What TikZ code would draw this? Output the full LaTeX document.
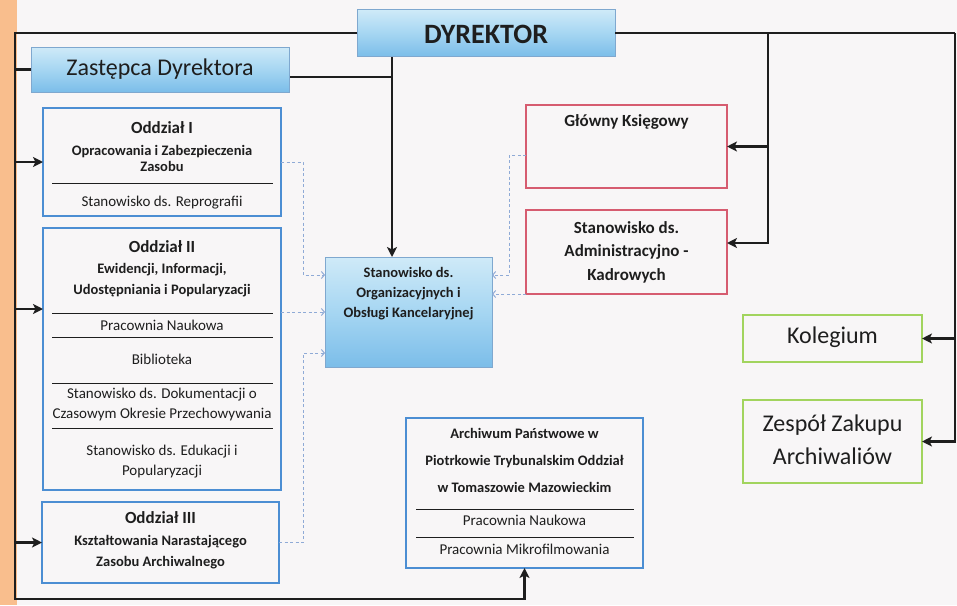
\documentclass[tikz,border=0pt]{standalone}
\usepackage{fontspec}
\setmainfont{Carlito}
\usetikzlibrary{arrows.meta}
\definecolor{paper}{HTML}{F8F6F7}
\definecolor{peach}{HTML}{F9BE8D}
\definecolor{blueline}{HTML}{4C8ED3}
\definecolor{redline}{HTML}{D65C70}
\definecolor{greenline}{HTML}{A2D45E}
\definecolor{dashblue}{HTML}{8FAAD6}
\definecolor{ink}{HTML}{1E1E1E}
\definecolor{headtop}{HTML}{CFEAF8}
\definecolor{headmid}{HTML}{A6D6F2}
\definecolor{headbot}{HTML}{7BBDE9}
\definecolor{headedge}{HTML}{7FA8CF}

\begin{document}
\begin{tikzpicture}[x=1pt,y=-1pt,
    box/.style={draw,rectangle,line width=1.6pt,inner sep=0pt,outer sep=0pt},
    bluebox/.style={box,draw=blueline},
    redbox/.style={box,draw=redline},
    greenbox/.style={box,draw=greenline},
    headbox/.style={rectangle,draw=headedge,line width=0.7pt,inner sep=0pt,outer sep=0pt,
        top color=headtop,bottom color=headbot,middle color=headmid},
    conn/.style={ink,line width=2.6pt},
    arr/.style={-{Stealth[length=10pt,width=10pt,inset=2.5pt]}},
    dconn/.style={dashblue,line width=1pt,dash pattern=on 3pt off 2.5pt,
        -{Straight Barb[length=3pt,width=7pt]}},
    sep/.style={ink,line width=0.8pt},
    head/.style={ink,align=center,font=\fontsize{17}{21}\selectfont\bfseries},
    sub/.style={ink,align=center,font=\fontsize{15}{21}\selectfont\bfseries},
    item/.style={ink,align=center,font=\fontsize{15}{20}\selectfont}]

    % page
    \useasboundingbox (0,0) rectangle (957,605);
    \fill[paper] (0,0) rectangle (957,605);
    \fill[peach] (0,0) rectangle (17,605);

    % management
    \node[headbox,minimum width=258,minimum height=47] (dyr) at (486,33) {};
    \node[ink,font=\fontsize{28}{30}\selectfont\bfseries] (dyrtxt) at (486,34) {DYREKTOR};
    \node[headbox,minimum width=258,minimum height=45] (zast) at (160,69.5) {};
    \node[ink,font=\fontsize{24}{26}\selectfont] (zasttxt) at (160,69) {Zastępca Dyrektora};

    % Oddzial I
    \node[bluebox,minimum width=238,minimum height=108] (od1) at (162,162) {};
    \node[head] (o1a) at (162,128) {Oddział I};
    \node[sub,font=\fontsize{14.5}{16}\selectfont\bfseries] (o1b) at (162,158) {Opracowania i Zabezpieczenia\\Zasobu};
    \draw[sep] (52,183) -- (273,183);
    \node[item] (o1c) at (162,203) {Stanowisko ds. Reprografii};

    % Oddzial II
    \node[bluebox,minimum width=238,minimum height=262] (od2) at (162,359) {};
    \node[head] (o2a) at (162,247) {Oddział II};
    \node[sub,font=\fontsize{14.5}{21}\selectfont\bfseries] (o2b) at (162,280) {Ewidencji, Informacji,\\Udostępniania i Popularyzacji};
    \draw[sep] (52,313) -- (273,313);
    \node[item] (o2c) at (162,325) {Pracownia Naukowa};
    \draw[sep] (52,337) -- (273,337);
    \node[item] (o2d) at (162,359) {Biblioteka};
    \draw[sep] (52,383) -- (273,383);
    \node[item] (o2e) at (162,404) {Stanowisko ds. Dokumentacji o\\Czasowym Okresie Przechowywania};
    \draw[sep] (52,428) -- (273,428);
    \node[item] (o2f) at (162,462) {Stanowisko ds. Edukacji i\\Popularyzacji};

    % Oddzial III
    \node[bluebox,minimum width=237,minimum height=81] (od3) at (160.5,542.5) {};
    \node[head] (o3a) at (160.5,518) {Oddział III};
    \node[sub,font=\fontsize{14.5}{21}\selectfont\bfseries] (o3b) at (160.5,552) {Kształtowania Narastającego\\Zasobu Archiwalnego};

    % central post
    \node[headbox,minimum width=167,minimum height=110] (org) at (408.5,312) {};
    \node[sub,font=\fontsize{14.5}{20}\selectfont\bfseries] (orgtxt) at (408.5,294) {Stanowisko ds.\\Organizacyjnych i\\Obsługi Kancelaryjnej};

    % red posts
    \node[redbox,minimum width=201,minimum height=83] (gk) at (626.5,146.5) {};
    \node[head] (gktxt) at (626.5,122) {Główny Księgowy};
    \node[redbox,minimum width=201,minimum height=84] (adm) at (626.5,252) {};
    \node[head,font=\fontsize{17}{23.5}\selectfont\bfseries] (admtxt) at (626.5,252) {Stanowisko ds.\\Administracyjno -\\Kadrowych};

    % green bodies
    \node[greenbox,minimum width=179,minimum height=47] (kol) at (832.5,338.5) {};
    \node[ink,font=\fontsize{24}{26}\selectfont] (koltxt) at (832.5,337) {Kolegium};
    \node[greenbox,minimum width=179,minimum height=83] (zesp) at (832.5,441.5) {};
    \node[ink,align=center,font=\fontsize{24}{33}\selectfont] (zesptxt) at (832.5,440) {Zespół Zakupu\\Archiwaliów};

    % branch office
    \node[bluebox,minimum width=237,minimum height=150] (arch) at (524.5,493) {};
    \node[sub,font=\fontsize{14.5}{27}\selectfont\bfseries] (archtxt) at (524.5,460) {Archiwum Państwowe w\\Piotrkowie Trybunalskim Oddział\\w Tomaszowie Mazowieckim};
    \draw[sep] (416,509) -- (634,509);
    \node[item] (a1) at (524.5,520) {Pracownia Naukowa};
    \draw[sep] (416,537) -- (634,537);
    \node[item] (a2) at (524.5,549) {Pracownia Mikrofilmowania};

    % solid lines
    \coordinate (tl) at (15,33);
    \coordinate (bl) at (15,599);
    \coordinate (tr) at (955,33);
    \coordinate (rv) at (768,33);
    \coordinate (dv) at (392,57);
    \coordinate (zr) at (290,77);
    \coordinate (a2in) at (43,309);
    \coordinate (admin) at (727,243);
    \draw[conn,arr] (dyr.west) -- (tl) -- (bl) -| (arch.south);
    \draw[conn] (tl |- zast.west) -- (zast.west);
    \draw[conn,arr] (tl |- od1.west) -- (od1.west);
    \draw[conn,arr] (tl |- a2in) -- (a2in);
    \draw[conn,arr] (tl |- od3.west) -- (od3.west);
    \draw[conn] (zr) -- (zr -| dv);
    \draw[conn,arr] (dv) -- (dv |- org.north);
    \draw[conn] (dyr.east) -- (tr);
    \draw[conn,arr] (tr) |- (zesp.east);
    \draw[conn,arr] (tr |- kol.east) -- (kol.east);
    \draw[conn,arr] (rv) |- (admin);
    \draw[conn,arr] (rv |- gk.east) -- (gk.east);

    % dashed links
    \coordinate (dx1) at (303,275);
    \coordinate (dx3) at (303,353);
    \coordinate (dx4) at (509,275);
    \draw[dconn] (od1.east) -| (dx1) -- (dx1 -| org.west);
    \draw[dconn] (od2.east |- org.west) -- (org.west);
    \draw[dconn] (od3.east) -| (dx3) -- (dx3 -| org.west);
    \draw[dconn] ([yshift=-8.5pt]gk.west) -| (dx4) -- (dx4 -| org.east);
    \draw[dconn] (adm.south west) -- (adm.south west -| org.east);
\end{tikzpicture}
\end{document}
